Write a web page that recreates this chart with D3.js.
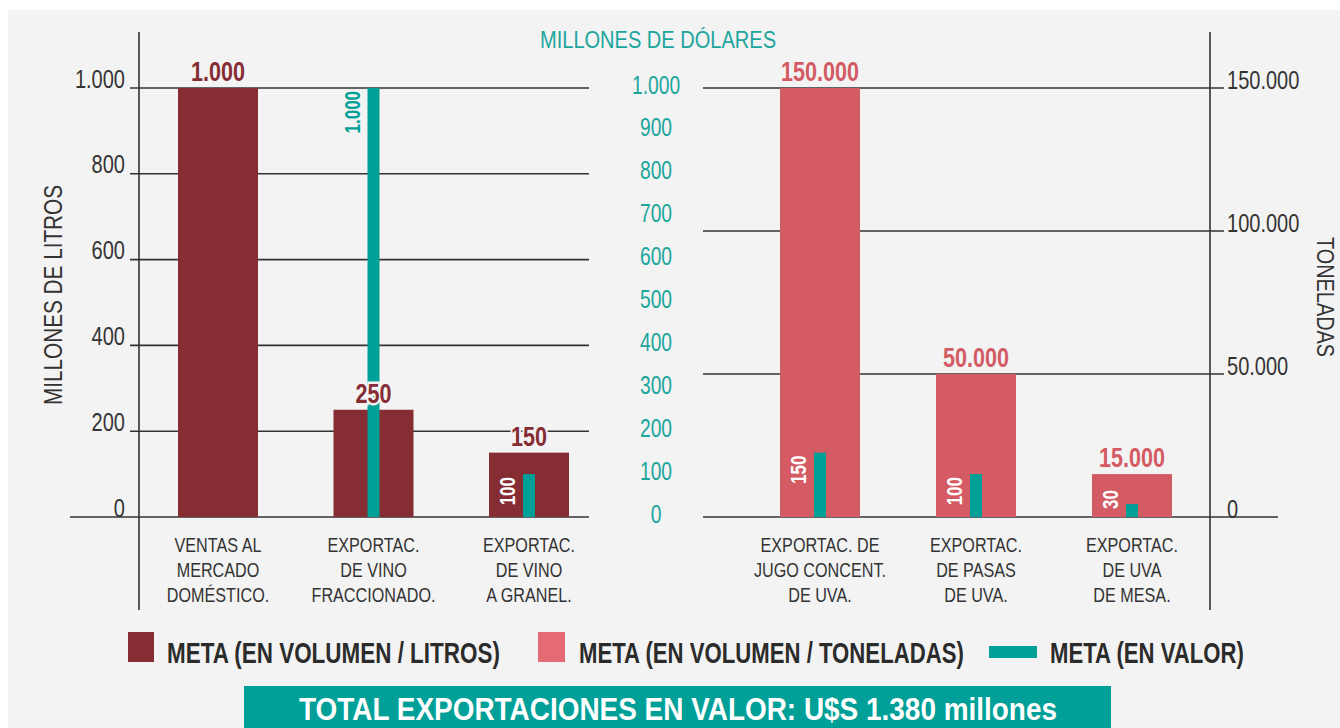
<!DOCTYPE html>
<html>
<head>
<meta charset="utf-8">
<script src="https://cdn.jsdelivr.net/npm/d3@7"></script>
<style>
  body { margin: 0; background: #ffffff; }
  svg { display: block; }
  text { font-family: "Liberation Sans", Arial, sans-serif; }
</style>
</head>
<body>
<div id="container"></div>
<script>
// datos
const litrosCats = [["VENTAS AL", "MERCADO", "DOMÉSTICO."], ["EXPORTAC.", "DE VINO", "FRACCIONADO."], ["EXPORTAC.", "DE VINO", "A GRANEL."]];
const litrosValues = [1000, 250, 150];
const litrosUsd = [null, 1000, 100];

const tonCats = [["EXPORTAC. DE", "JUGO CONCENT.", "DE UVA."], ["EXPORTAC.", "DE PASAS", "DE UVA."], ["EXPORTAC.", "DE UVA", "DE MESA."]];
const tonValues = [150000, 50000, 15000];
const tonUsd = [150, 100, 30];

const litrosTicks = [0, 200, 400, 600, 800, 1000];
const usdTicks = [0, 100, 200, 300, 400, 500, 600, 700, 800, 900, 1000];
const tonTicks = [0, 50000, 100000, 150000];

const legendItems = ["META (EN VOLUMEN / LITROS)", "META (EN VOLUMEN / TONELADAS)", "META (EN VALOR)"];
const totalText = "TOTAL EXPORTACIONES EN VALOR: U$S 1.380 millones";

const cRed = "#862d33", cPink = "#d45b64", cPinkLeg = "#e46a73", cTeal = "#00a098", cTealTxt = "#1aa59d", cInk = "#333333", bg = "#f3f3f3";

// condensed look (the original uses a narrow typeface)
const K = 0.77;

const fmt = d3.formatLocale({decimal: ",", thousands: ".", grouping: [3], currency: ["", ""]}).format(",");

function condense(sel, k) {
    sel.each(function() {
        var l = this.getComputedTextLength();
        d3.select(this).attr("textLength", l * k).attr("lengthAdjust", "spacingAndGlyphs");
    });
}

const W = 1340, H = 728;
const svg = d3.select("#container").append("svg").attr("width", W).attr("height", H);

svg.append("rect").attr("x", 8).attr("y", 10).attr("width", W - 8).attr("height", H - 10).attr("fill", bg);

const y0 = 517, yTop = 88;
var yL = d3.scaleLinear().domain([0, 1000]).range([y0, yTop]);
var yU = d3.scaleLinear().domain([0, 1000]).range([y0, yTop]);
var yT = d3.scaleLinear().domain([0, 150000]).range([y0, yTop]);

var xL = d3.scalePoint().domain(litrosCats.map(d => d.join(" "))).range([218, 529]);
var xT = d3.scalePoint().domain(tonCats.map(d => d.join(" "))).range([820, 1132]);

const barW = 80, tealW = 12;

// gridlines
function addGrid(g, ticks, y, x1, x2, zeroX1, zeroX2) {
    g.selectAll(null)
        .data(ticks)
        .enter()
        .append("line")
        .attr("x1", d => d === 0 ? zeroX1 : x1)
        .attr("x2", d => d === 0 ? zeroX2 : x2)
        .attr("y1", d => y(d))
        .attr("y2", d => y(d))
        .attr("stroke", cInk)
        .attr("stroke-width", 1.6);
}

const grid = svg.append("g");
grid.call(addGrid, litrosTicks, yL, 130, 589, 70, 589);
grid.call(addGrid, tonTicks, yT, 703, 1224, 703, 1278);

// vertical axes
svg.append("line").attr("x1", 139).attr("x2", 139).attr("y1", 32).attr("y2", 610).attr("stroke", cInk).attr("stroke-width", 1.6);
svg.append("line").attr("x1", 1210).attr("x2", 1210).attr("y1", 32).attr("y2", 610).attr("stroke", cInk).attr("stroke-width", 1.6);

// tick labels
var axL = svg.append("g")
    .attr("transform", "translate(125,0)")
    .call(d3.axisLeft(yL).tickValues(litrosTicks).tickFormat(fmt).tickSize(0).tickPadding(0));
axL.select(".domain").remove();
axL.selectAll("text").attr("dy", null).attr("y", -1).attr("font-size", 26).attr("fill", cInk);

var axU = svg.append("g")
    .attr("transform", "translate(656,0)")
    .call(d3.axisRight(yU).tickValues(usdTicks).tickFormat(fmt).tickSize(0).tickPadding(0));
axU.select(".domain").remove();
axU.selectAll("text").attr("text-anchor", "middle").attr("x", 0).attr("dy", null).attr("y", 5).attr("font-size", 25).attr("fill", cTealTxt);

var axT = svg.append("g")
    .attr("transform", "translate(1227,0)")
    .call(d3.axisRight(yT).tickValues(tonTicks).tickFormat(fmt).tickSize(0).tickPadding(0));
axT.select(".domain").remove();
axT.selectAll("text").attr("x", 0).attr("dy", null).attr("y", 0).attr("font-size", 26).attr("fill", cInk);

// axis titles
svg.append("text")
    .attr("transform", "translate(62,295) rotate(-90)")
    .attr("text-anchor", "middle")
    .attr("font-size", 25)
    .attr("fill", cInk)
    .attr("textLength", 220)
    .attr("lengthAdjust", "spacingAndGlyphs")
    .text("MILLONES DE LITROS");

svg.append("text")
    .attr("x", 658).attr("y", 48)
    .attr("text-anchor", "middle")
    .attr("font-size", 24)
    .attr("fill", cTealTxt)
    .attr("textLength", 236)
    .attr("lengthAdjust", "spacingAndGlyphs")
    .text("MILLONES DE DÓLARES");

svg.append("text")
    .attr("transform", "translate(1317,297) rotate(90)")
    .attr("text-anchor", "middle")
    .attr("font-size", 24)
    .attr("fill", cInk)
    .attr("textLength", 120)
    .attr("lengthAdjust", "spacingAndGlyphs")
    .text("TONELADAS");

// bars
function addBars(g, cats, vals, usd, x, y, col, labCol) {
    var keys = cats.map(d => d.join(" "));

    g.selectAll(null).data(vals).enter()
        .append("rect")
        .attr("x", (d, i) => x(keys[i]) - barW / 2)
        .attr("y", d => y(d))
        .attr("width", barW)
        .attr("height", d => y0 - y(d))
        .attr("fill", col);

    usd.forEach(function(d, i) {
        if (d === null) return;
        g.append("rect")
            .attr("x", x(keys[i]) - tealW / 2)
            .attr("y", yU(d))
            .attr("width", tealW)
            .attr("height", y0 - yU(d))
            .attr("fill", cTeal);
    });

    // value labels
    g.selectAll(null).data(vals).enter()
        .append("text")
        .attr("x", (d, i) => x(keys[i]))
        .attr("y", d => y(d) - 7)
        .attr("text-anchor", "middle")
        .attr("font-size", 28)
        .attr("font-weight", "bold")
        .attr("fill", labCol)
        .attr("stroke", bg)
        .attr("stroke-width", 5)
        .attr("paint-order", "stroke")
        .text(d => fmt(d));

    // usd labels (rotated)
    usd.forEach(function(d, i) {
        if (d === null) return;
        var cx = x(keys[i]);
        var tall = (y0 - yU(d)) > 200;
        var t = g.append("text")
            .attr("font-size", 22)
            .attr("font-weight", "bold")
            .attr("fill", tall ? cTeal : "#ffffff")
            .text(fmt(d));
        var len = t.node().getComputedTextLength() * K;
        t.attr("textLength", len).attr("lengthAdjust", "spacingAndGlyphs");
        var bottom = Math.min(yU(d) + 3 + len, y0 - 8);
        t.attr("transform", "translate(" + (cx - 14) + "," + bottom + ") rotate(-90)");
    });

    // category labels
    cats.forEach(function(lines, i) {
        lines.forEach(function(l, j) {
            g.append("text")
                .attr("text-anchor", "middle")
                .attr("font-size", 21)
                .attr("fill", cInk)
                .attr("x", x(keys[i]))
                .attr("y", 552 + j * 25)
                .text(l);
        });
    });
}

svg.append("g").call(addBars, litrosCats, litrosValues, litrosUsd, xL, yL, cRed, cRed);
svg.append("g").call(addBars, tonCats, tonValues, tonUsd, xT, yT, cPink, cPink);

// legend
var leg = svg.append("g");
leg.append("rect").attr("x", 128).attr("y", 632).attr("width", 26).attr("height", 30).attr("fill", cRed);
leg.append("rect").attr("x", 538).attr("y", 632).attr("width", 27).attr("height", 30).attr("fill", cPinkLeg);
leg.append("rect").attr("x", 989).attr("y", 646).attr("width", 48).attr("height", 12).attr("fill", cTeal);

[[167, 333], [579, 385], [1050, 194]].forEach(function(p, i) {
    var t = leg.append("text")
        .attr("font-size", 29)
        .attr("font-weight", "bold")
        .attr("fill", "#2b2b2b")
        .attr("textLength", 1)
        .text(legendItems[i]);
    t.attr("textLength", null);
    var sx = p[1] / t.node().getComputedTextLength();
    t.attr("transform", "translate(" + p[0] + ",663) scale(" + sx + ",1)");
});

// total box
svg.append("rect").attr("x", 244).attr("y", 686).attr("width", 867).attr("height", 42).attr("fill", cTeal);
svg.append("text")
    .attr("x", 678).attr("y", 720)
    .attr("text-anchor", "middle")
    .attr("font-size", 32)
    .attr("font-weight", "bold")
    .attr("fill", "#ffffff")
    .attr("textLength", 758)
    .attr("lengthAdjust", "spacingAndGlyphs")
    .text(totalText);

// condense remaining texts
svg.selectAll("text")
    .filter(function() { return !this.hasAttribute("textLength") && !this.hasAttribute("transform"); })
    .call(condense, K);
</script>
</body>
</html>
